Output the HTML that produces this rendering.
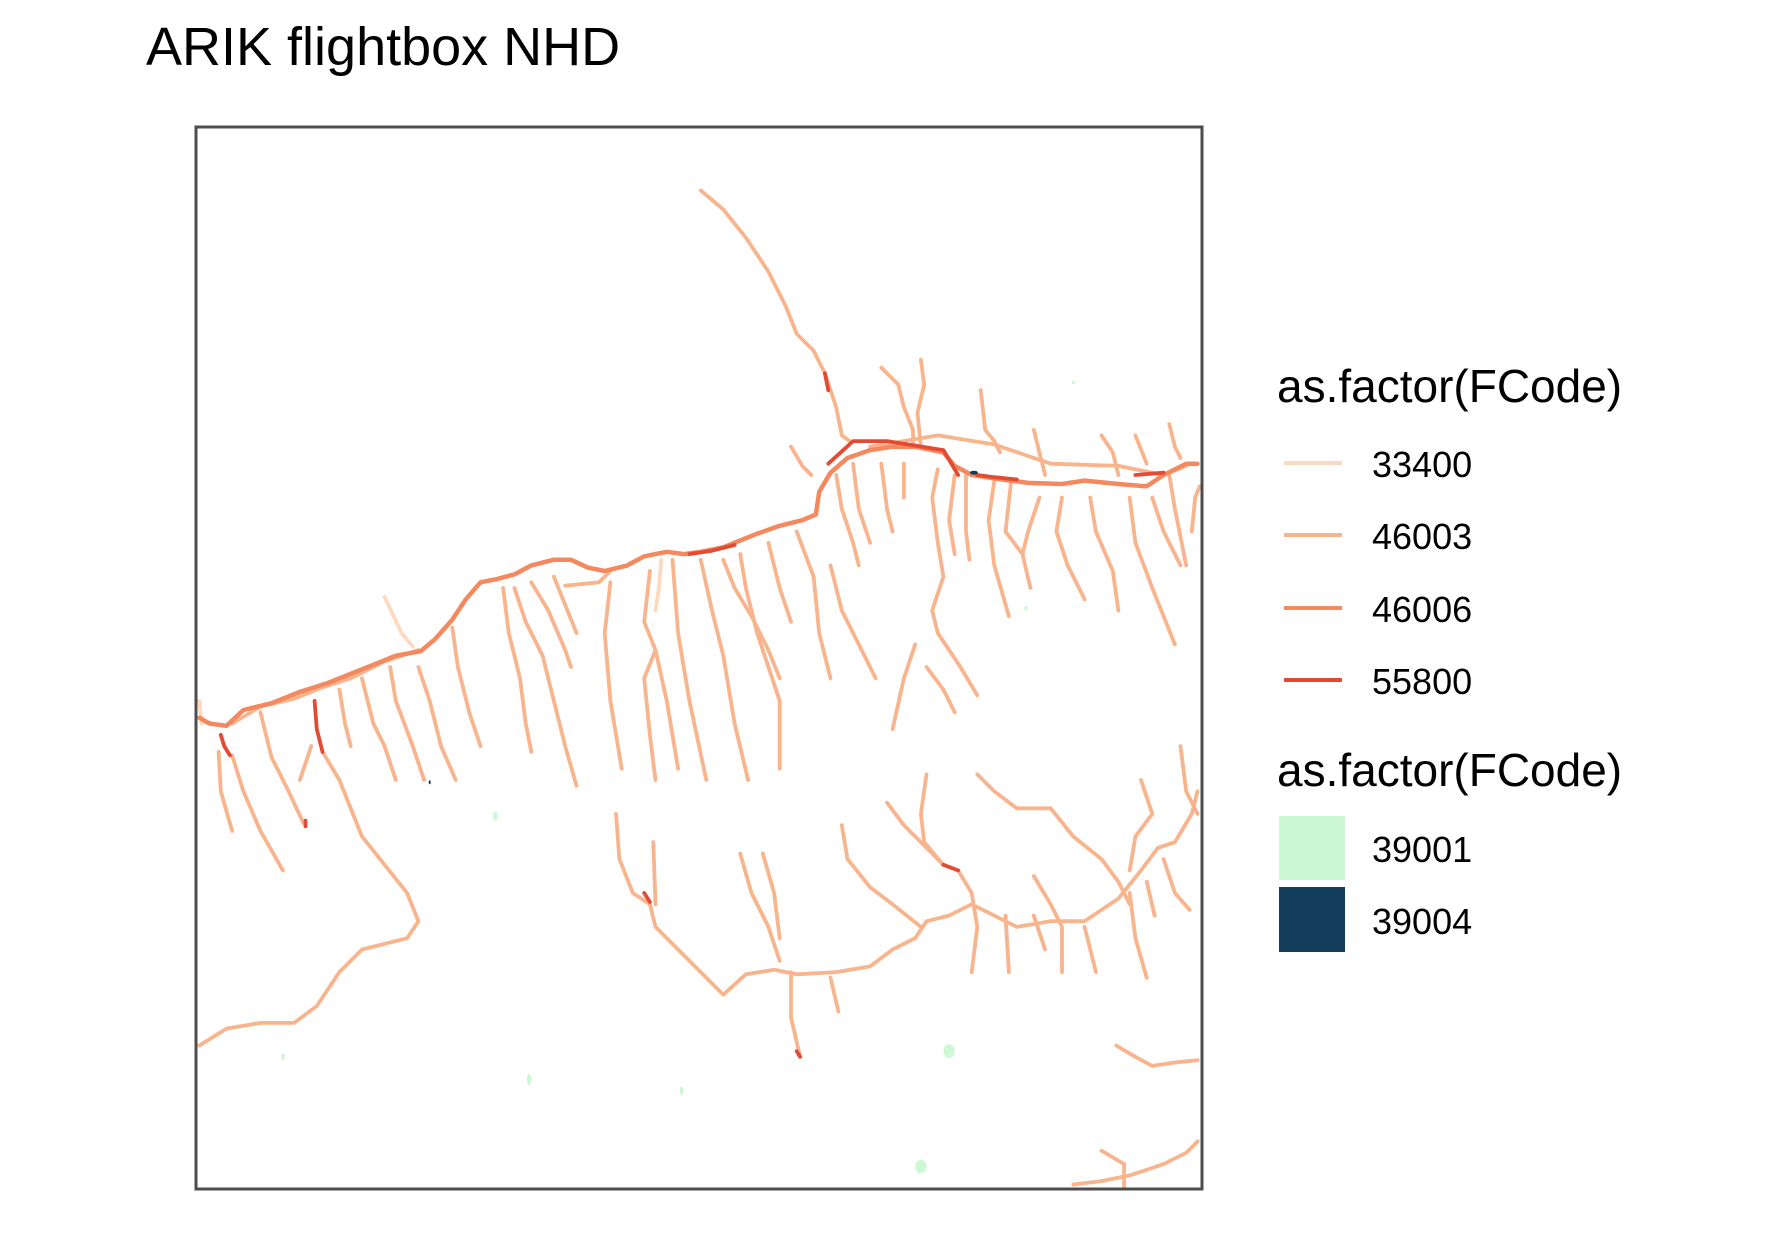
<!DOCTYPE html>
<html><head><meta charset="utf-8"><style>
html,body{margin:0;padding:0;background:#fff;}
svg{display:block;font-family:"Liberation Sans",Arial,sans-serif;}
</style></head><body>
<svg id="chart" width="1771" height="1243" viewBox="0 0 1771 1243">
<rect x="0" y="0" width="1771" height="1243" fill="#fff"/>
<text x="146" y="65" font-size="54" fill="#000">ARIK flightbox NHD</text>
<g id="map"></g>
<rect x="196" y="127" width="1006" height="1062" fill="none" stroke="#4d4d4d" stroke-width="3"/>
<g>
<text x="1277" y="402" font-size="46">as.factor(FCode)</text>
<line x1="1284" x2="1342" y1="463" y2="463" stroke="#fdd9bf" stroke-width="4"/>
<text x="1372" y="477" font-size="36">33400</text>
<line x1="1284" x2="1342" y1="535" y2="535" stroke="#f8b48c" stroke-width="4"/>
<text x="1372" y="549" font-size="36">46003</text>
<line x1="1284" x2="1342" y1="608" y2="608" stroke="#f4895f" stroke-width="4"/>
<text x="1372" y="622" font-size="36">46006</text>
<line x1="1284" x2="1342" y1="680" y2="680" stroke="#e34a33" stroke-width="4"/>
<text x="1372" y="694" font-size="36">55800</text>
</g>
<g>
<text x="1277" y="786" font-size="46">as.factor(FCode)</text>
<rect x="1279" y="816" width="66" height="64" fill="#ccf8d3"/>
<text x="1372" y="862" font-size="36">39001</text>
<rect x="1279" y="887" width="66" height="65" fill="#133d5a"/>
<text x="1372" y="934" font-size="36">39004</text>
</g>
</svg>
<script>
// map extent (projected map units) and class data
const xDomain = [173, 1064];
const yDomain = [112, 1052];
const classes = ["33400","46003","46006","55800"];
const flow33400 = [
 [[340,528],[348,545],[355,560],[365,572]],
 [[585,495],[583,520],[580,540]],
 [[176,620],[178,640]]
];
const flow46003 = [
 [[620,168],[640,185],[660,210],[680,240],[695,270],[705,295],[720,310],[730,330],[740,360],[745,385],[752,390]],
 [[780,325],[795,340],[800,360],[808,380],[808,395]],
 [[815,318],[818,340],[812,365],[815,395]],
 [[868,345],[872,380],[880,390],[885,400]],
 [[915,380],[920,400],[925,420]],
 [[975,385],[985,400],[990,420]],
 [[1035,375],[1040,395],[1045,405]],
 [[1005,385],[1015,410]],
 [[700,395],[710,412],[718,420]],
 [[770,395],[830,385],[880,393],[930,410],[990,412],[1030,420],[1050,412]],
 [[205,640],[230,625],[260,618],[285,608],[310,600],[340,585],[370,575]],
 [[205,668],[215,700],[230,735],[250,770]],
 [[193,665],[195,700],[205,735]],
 [[230,630],[240,670],[255,700],[268,728]],
 [[285,665],[300,690],[320,740],[340,765],[360,790],[370,815],[360,830],[320,840],[300,860],[280,890],[260,905],[230,905],[200,910],[176,925]],
 [[275,660],[265,690]],
 [[300,610],[305,640],[310,660]],
 [[320,600],[330,640],[340,660],[350,690]],
 [[345,590],[350,620],[365,660],[375,690]],
 [[370,590],[380,620],[390,660],[403,690]],
 [[400,555],[405,590],[415,630],[425,660]],
 [[445,520],[450,560],[460,600],[465,640],[470,665]],
 [[455,520],[465,550],[480,580],[490,620],[500,660],[510,695]],
 [[470,515],[485,540],[500,575],[505,590]],
 [[490,510],[500,535],[510,560]],
 [[500,518],[530,515],[540,505]],
 [[540,515],[535,560],[540,620],[550,680]],
 [[575,505],[570,550],[580,575],[570,600],[575,650],[580,690]],
 [[595,495],[600,560],[610,620],[625,690]],
 [[580,575],[590,620],[600,680]],
 [[620,495],[630,540],[640,580],[650,640],[662,690]],
 [[640,495],[650,520],[665,545],[680,575],[690,600]],
 [[655,490],[660,520],[670,560],[690,620],[690,680]],
 [[680,480],[690,520],[700,550]],
 [[705,470],[720,510],[725,560],[735,600]],
 [[735,500],[745,540],[760,570],[775,600]],
 [[740,420],[745,450],[755,480],[760,500]],
 [[755,410],[760,450],[770,480]],
 [[780,410],[785,450],[790,470]],
 [[800,410],[800,440]],
 [[830,415],[825,440],[830,480],[835,510],[825,540],[830,560],[850,590],[865,615]],
 [[845,420],[840,460],[845,490]],
 [[855,420],[855,470],[858,495]],
 [[880,425],[875,460],[880,500],[893,545]],
 [[895,425],[890,470],[905,490],[912,520]],
 [[920,440],[910,470],[905,490]],
 [[940,440],[935,470],[945,500],[960,530]],
 [[965,440],[970,470],[985,505],[990,540]],
 [[1000,440],[1005,480],[1020,520],[1030,545],[1040,570]],
 [[1020,440],[1030,470],[1045,500]],
 [[1035,420],[1040,450],[1050,500]],
 [[1062,430],[1058,440],[1055,470]],
 [[810,570],[800,600],[790,645]],
 [[820,590],[835,610],[845,630]],
 [[545,720],[548,760],[560,790],[575,800],[580,820],[610,850],[640,880],[660,862],[685,858],[705,862],[740,860],[770,855],[790,840],[810,830],[820,815],[840,810],[860,800],[880,810],[900,820],[930,815],[960,815],[990,795],[1010,770],[1025,750],[1040,745],[1055,720],[1060,700]],
 [[578,745],[580,800]],
 [[655,755],[665,790],[680,820],[690,850]],
 [[675,755],[685,790],[690,830]],
 [[745,730],[750,760],[770,785],[790,800],[815,820]],
 [[700,860],[700,900],[708,935]],
 [[735,865],[742,895]],
 [[785,710],[800,730],[820,750],[835,765]],
 [[848,770],[860,790],[865,820],[860,860]],
 [[820,685],[815,720],[818,745],[835,765]],
 [[865,685],[880,700],[900,715],[930,715],[950,740],[975,760],[990,780],[1000,800]],
 [[915,775],[930,800],[940,820],[940,860]],
 [[890,810],[893,860]],
 [[915,810],[925,840]],
 [[960,820],[970,860]],
 [[1000,790],[1005,830],[1015,865]],
 [[1010,690],[1020,720],[1005,740],[1000,770]],
 [[1045,660],[1050,700],[1060,720]],
 [[1030,760],[1040,790],[1053,805]],
 [[1015,780],[1022,810]],
 [[988,925],[1005,935],[1020,943],[1040,940],[1060,938]],
 [[950,1048],[975,1045],[1000,1040],[1030,1030],[1050,1020],[1060,1010]],
 [[975,1018],[995,1030],[995,1050]]
];
const flow46006 = [
 [[176,635],[185,640],[200,642],[215,628],[240,622],[265,612],[290,604],[320,592],[350,580],[372,576],[385,565],[400,548],[412,530],[425,515],[440,512],[455,508],[470,500],[490,495],[505,495],[520,502],[535,505],[555,500],[570,492],[590,488],[605,490],[620,488],[640,484],[655,478],[670,472],[690,465],[710,460],[722,455],[725,435],[735,418],[750,405],[770,398],[790,395],[810,395],[835,400],[845,412],[860,420],[880,423],[910,427],[940,428],[960,425],[990,428],[1015,430],[1030,420],[1050,410],[1060,410]]
];
const flow55800 = [
 [[730,330],[733,345]],
 [[733,410],[755,390],[785,390],[835,398],[848,420]],
 [[195,650],[198,660],[203,668]],
 [[278,620],[280,645],[285,665]],
 [[570,790],[575,798]],
 [[705,930],[708,935]],
 [[835,765],[848,770]],
 [[1005,420],[1030,418]],
 [[610,490],[630,487],[650,482]],
 [[270,726],[270,731]],
 [[865,420],[880,422],[900,424]]
];
const lakes39001 = [[840,930,5,6],[815,1032,5,6],[438,722,2,4],[468,955,2,5],[603,965,1.5,4],[250,935,1.5,3],[908,538,1.5,2],[950,338,1.5,1.5]];
const swamps39004 = [[862,418,4,2],[380,692,1,2]];

const colors = {"33400":"#fdd9bf","46003":"#f8b48c","46006":"#f4895f","55800":"#e34a33"};
const xScale = v => 196 + (v - xDomain[0]) / (xDomain[1] - xDomain[0]) * 1006;
const yScale = v => 127 + (v - yDomain[0]) / (yDomain[1] - yDomain[0]) * 1062;
const NS = "http://www.w3.org/2000/svg";
const map = document.getElementById("map");
const byClass = {"33400":flow33400,"46003":flow46003,"46006":flow46006,"55800":flow55800};
lakes39001.forEach((d,i)=>{
  const e = document.createElementNS(NS,"ellipse");
  e.setAttribute("cx",xScale(d[0]));e.setAttribute("cy",yScale(d[1]));
  e.setAttribute("rx",d[2]*1.13);e.setAttribute("ry",d[3]*1.13);e.setAttribute("fill","#ccf8d3");
  
  
  map.appendChild(e);
});
["46003","33400","46006","55800"].forEach(c=>{
  byClass[c].forEach((line,i)=>{
    const p = document.createElementNS(NS,"polyline");
    p.setAttribute("points", line.map(pt=>xScale(pt[0]).toFixed(1)+","+yScale(pt[1]).toFixed(1)).join(" "));
    p.setAttribute("fill","none");p.setAttribute("stroke",colors[c]);
    p.setAttribute("stroke-width", c==="46006"?4.5:3.8);
    p.setAttribute("stroke-linejoin","round");p.setAttribute("stroke-linecap","round");
    
    
    map.appendChild(p);
  });
});
swamps39004.forEach(d=>{
  const e = document.createElementNS(NS,"ellipse");
  e.setAttribute("cx",xScale(d[0]));e.setAttribute("cy",yScale(d[1]));
  e.setAttribute("rx",d[2]);e.setAttribute("ry",d[3]);e.setAttribute("fill","#133d5a");
  
  
  map.appendChild(e);
});
</script>
</body></html>
